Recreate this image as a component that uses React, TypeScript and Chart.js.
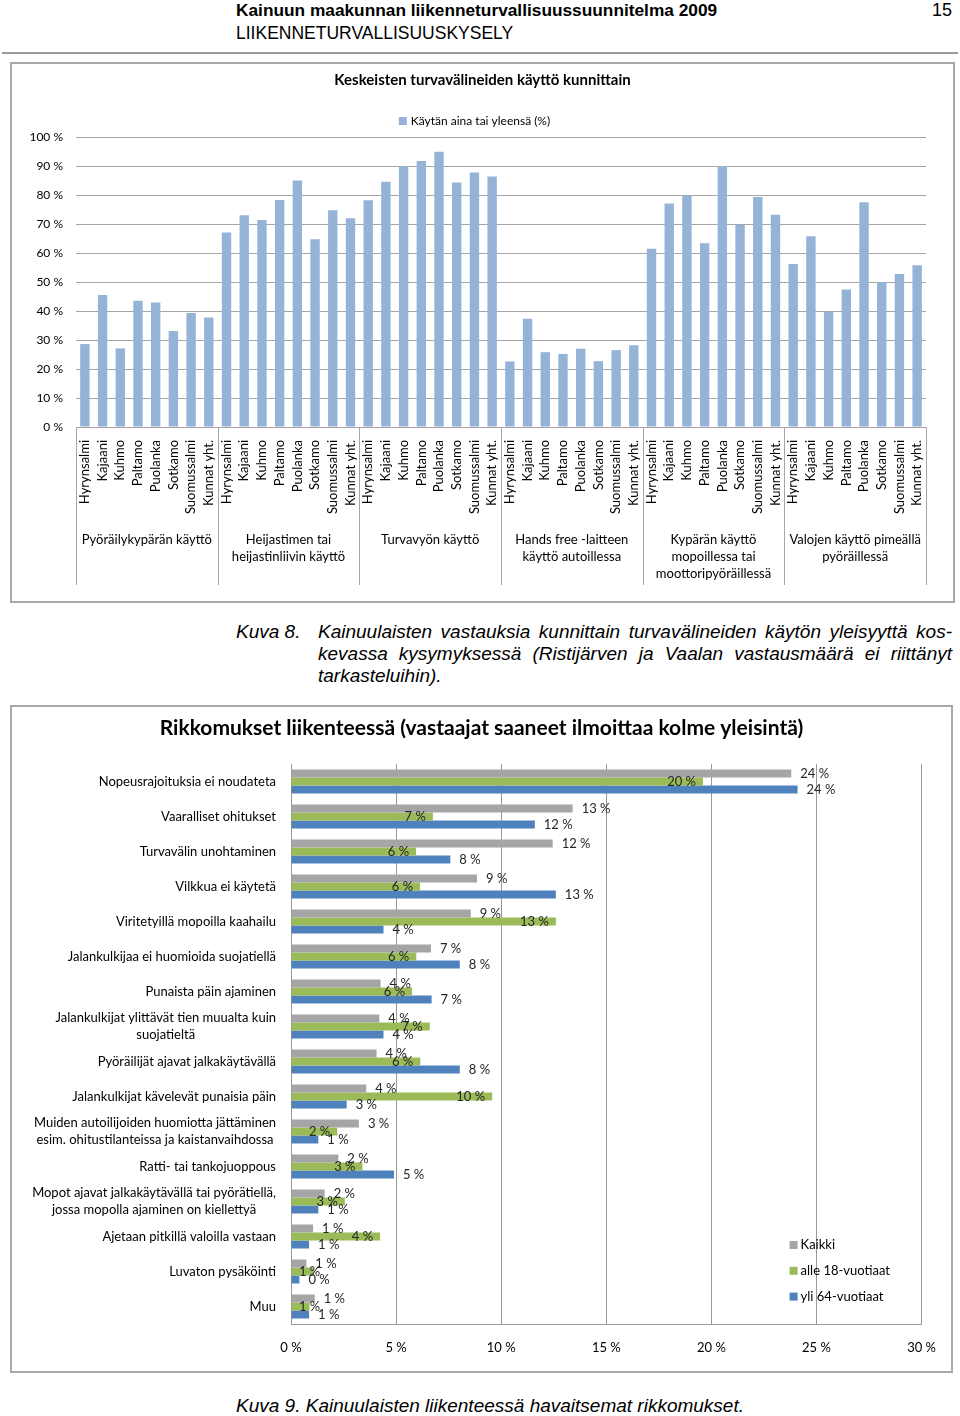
import React, { useEffect, useRef } from "react";
import { Chart, registerables } from "chart.js";
Chart.register(...registerables);

const FONT = "Lato, 'Open Sans', sans-serif";
const NARROW = "'Liberation Sans Narrow', 'Arial Narrow', 'Liberation Sans', Arial, sans-serif";

// ---------- Chart 1: Keskeisten turvavälineiden käyttö kunnittain ----------
const usageTitle = "Keskeisten turvavälineiden käyttö kunnittain";
const usageLegend = "Käytän aina tai yleensä (%)";
const municipalities = ["Hyrynsalmi", "Kajaani", "Kuhmo", "Paltamo", "Puolanka", "Sotkamo", "Suomussalmi", "Kunnat yht."];
const equipmentGroups: string[][] = [
  ["Pyöräilykypärän käyttö"],
  ["Heijastimen tai", "heijastinliivin käyttö"],
  ["Turvavyön käyttö"],
  ["Hands free -laitteen", "käyttö autoillessa"],
  ["Kypärän käyttö", "mopoillessa tai", "moottoripyöräillessä"],
  ["Valojen käyttö pimeällä", "pyöräillessä"],
];
const bikeHelmetUse = [28.6, 45.5, 27.1, 43.5, 42.9, 33.1, 39.3, 37.8];
const reflectorUse = [67.1, 73.0, 71.4, 78.3, 85.0, 64.7, 74.7, 72.0];
const seatbeltUse = [78.2, 84.6, 89.9, 91.7, 94.9, 84.3, 87.8, 86.4];
const handsFreeUse = [22.6, 37.3, 25.8, 25.2, 27.0, 22.7, 26.5, 28.2];
const mopedHelmetUse = [61.5, 77.1, 79.8, 63.4, 89.9, 69.7, 79.3, 73.2];
const bikeLightUse = [56.2, 65.8, 39.7, 47.4, 77.5, 50.0, 52.8, 55.8];
const usageTicks = [0, 10, 20, 30, 40, 50, 60, 70, 80, 90, 100];

// ---------- Chart 2: Rikkomukset liikenteessä ----------
const violationTitle = "Rikkomukset liikenteessä (vastaajat saaneet ilmoittaa kolme yleisintä)";
const violations: string[][] = [
  ["Nopeusrajoituksia ei noudateta"],
  ["Vaaralliset ohitukset"],
  ["Turvavälin unohtaminen"],
  ["Vilkkua ei käytetä"],
  ["Viritetyillä mopoilla kaahailu"],
  ["Jalankulkijaa ei huomioida suojatiellä"],
  ["Punaista päin ajaminen"],
  ["Jalankulkijat ylittävät tien muualta kuin", "suojatieltä"],
  ["Pyöräilijät ajavat jalkakäytävällä"],
  ["Jalankulkijat kävelevät punaisia päin"],
  ["Muiden autoilijoiden huomiotta jättäminen", "esim. ohitustilanteissa ja kaistanvaihdossa"],
  ["Ratti- tai tankojuoppous"],
  ["Mopot ajavat jalkakäytävällä tai pyörätiellä,", "jossa mopolla ajaminen on kiellettyä"],
  ["Ajetaan pitkillä valoilla vastaan"],
  ["Luvaton pysäköinti"],
  ["Muu"],
];
const seriesNames = ["Kaikki", "alle 18-vuotiaat", "yli 64-vuotiaat"];
const allRespondents = [23.8, 13.4, 12.45, 8.85, 8.55, 6.66, 4.26, 4.2, 4.07, 3.58, 3.23, 2.25, 1.6, 1.05, 0.73, 1.13];
const under18 = [19.6, 6.75, 5.95, 6.14, 12.6, 5.96, 5.76, 6.6, 6.15, 9.57, 2.2, 3.4, 2.56, 4.24, 1.08, 0.88];
const over64 = [24.1, 11.6, 7.58, 12.6, 4.4, 8.03, 6.69, 4.4, 8.03, 2.65, 1.3, 4.9, 1.3, 0.86, 0.4, 0.86];
const seriesColors = ["#A5A5A5", "#9BBB59", "#4F81BD"];
const violationTicks = [0, 5, 10, 15, 20, 25, 30];

const pct = (v: number | string) => `${v} %`;

export default function App() {
  const ref1 = useRef<HTMLCanvasElement>(null);
  const ref2 = useRef<HTMLCanvasElement>(null);

  useEffect(() => {
    const usageSeries = [bikeHelmetUse, reflectorUse, seatbeltUse, handsFreeUse, mopedHelmetUse, bikeLightUse];
    const labels1: string[] = [];
    const values1: number[] = [];
    usageSeries.forEach((s) => {
      municipalities.forEach((m, i) => {
        labels1.push(m);
        values1.push(s[i]);
      });
    });

    const plugin1 = {
      id: "usageDecor",
      afterDraw(chart: any) {
        const { ctx, chartArea, width } = chart;
        const x = chart.scales.x;
        const n = municipalities.length;
        const cw = x.getPixelForValue(1) - x.getPixelForValue(0);
        ctx.save();
        ctx.strokeStyle = "#a6a6a6";
        ctx.lineWidth = 1;
        for (let g = 0; g <= equipmentGroups.length; g++) {
          const px = Math.round(x.getPixelForValue(g * n) - cw / 2) + 0.5;
          ctx.beginPath();
          ctx.moveTo(px, chartArea.bottom);
          ctx.lineTo(px, chartArea.bottom + 158);
          ctx.stroke();
        }
        ctx.fillStyle = "#000";
        ctx.font = `13px ${FONT}`;
        ctx.textAlign = "center";
        ctx.textBaseline = "middle";
        equipmentGroups.forEach((lines, g) => {
          const cx = x.getPixelForValue(g * n) - cw / 2 + (cw * n) / 2;
          lines.forEach((l, i) => ctx.fillText(l, cx, chartArea.bottom + 113 + i * 17));
        });
        // title
        ctx.font = `bold 15px ${FONT}`;
        ctx.fillText(usageTitle, width / 2, 17);
        // legend
        ctx.font = `12px ${FONT}`;
        const tw = ctx.measureText(usageLegend).width;
        const total = 8 + 4 + tw;
        const sx = width / 2 - 8 - total / 2;
        ctx.fillStyle = "#95B3D7";
        ctx.fillRect(sx, 54, 8, 8);
        ctx.fillStyle = "#000";
        ctx.textAlign = "left";
        ctx.fillText(usageLegend, sx + 12, 58);
        ctx.restore();
      },
    };

    const c1 = new Chart(ref1.current!, {
      type: "bar",
      data: {
        labels: labels1,
        datasets: [
          {
            label: usageLegend,
            data: values1,
            backgroundColor: "#95B3D7",
            barPercentage: 0.53,
            categoryPercentage: 1,
          },
        ],
      },
      options: {
        animation: false,
        responsive: false,
        maintainAspectRatio: false,
        layout: { padding: { top: 74, right: 28, left: 0, bottom: 0 } },
        plugins: { legend: { display: false }, title: { display: false }, tooltip: { enabled: false } },
        scales: {
          x: {
            grid: { display: false, drawTicks: false },
            border: { display: false },
            ticks: {
              autoSkip: false,
              maxRotation: 90,
              minRotation: 90,
              padding: 13,
              color: "#000",
              font: { family: FONT, size: 13 },
            },
            afterFit: (s: any) => {
              s.height = 175;
            },
          },
          y: {
            min: usageTicks[0],
            max: usageTicks[usageTicks.length - 1],
            ticks: {
              stepSize: usageTicks[1] - usageTicks[0],
              callback: (v: any) => pct(v),
              padding: 13,
              color: "#000",
              font: { family: FONT, size: 12 },
            },
            grid: { color: "#a6a6a6", drawTicks: false },
            border: { display: false },
            afterFit: (s: any) => {
              s.width = 65;
            },
          },
        },
      },
      plugins: [plugin1],
    } as any);

    const plugin2 = {
      id: "violationDecor",
      afterDraw(chart: any) {
        const { ctx, chartArea, width } = chart;
        const y = chart.scales.y;
        ctx.save();
        // title
        ctx.fillStyle = "#000";
        ctx.font = `bold 21px ${FONT}`;
        ctx.textAlign = "center";
        ctx.textBaseline = "middle";
        ctx.fillText(violationTitle, width / 2, 22);
        // category labels
        ctx.font = `13px ${FONT}`;
        const rightEdge = chartArea.left - 15;
        violations.forEach((lines, i) => {
          const cy = y.getPixelForValue(i);
          const maxW = Math.max(...lines.map((l) => ctx.measureText(l).width));
          const cx = rightEdge - maxW / 2;
          lines.forEach((l, k) => {
            const ly = cy + (k - (lines.length - 1) / 2) * 17;
            ctx.fillText(l, cx, ly);
          });
        });
        // data labels
        ctx.font = `13px ${FONT}`;
        ctx.fillStyle = "#262626";
        ctx.textAlign = "left";
        chart.data.datasets.forEach((ds: any, d: number) => {
          const meta = chart.getDatasetMeta(d);
          meta.data.forEach((el: any, i: number) => {
            const text = pct(Math.round(ds.data[i]));
            const w = ctx.measureText(text).width;
            let lx;
            if (d === 1) {
              lx = Math.max(el.x - 7 - w, chartArea.left + 8);
            } else {
              lx = el.x + 9;
            }
            ctx.fillText(text, lx, el.y);
          });
        });
        // legend
        ctx.font = `13px ${FONT}`;
        seriesNames.forEach((name, k) => {
          const ly = chartArea.bottom - 79 + k * 25.8;
          const lx = chartArea.right - 132;
          ctx.fillStyle = seriesColors[k];
          ctx.fillRect(lx, ly - 4, 8, 8);
          ctx.fillStyle = "#000";
          ctx.fillText(name, lx + 11, ly);
        });
        ctx.restore();
      },
    };

    const c2 = new Chart(ref2.current!, {
      type: "bar",
      data: {
        labels: violations,
        datasets: [
          { label: seriesNames[0], data: allRespondents, backgroundColor: seriesColors[0] },
          { label: seriesNames[1], data: under18, backgroundColor: seriesColors[1] },
          { label: seriesNames[2], data: over64, backgroundColor: seriesColors[2] },
        ].map((d) => ({ ...d, barPercentage: 1, categoryPercentage: 0.69 })),
      },
      options: {
        indexAxis: "y",
        animation: false,
        responsive: false,
        maintainAspectRatio: false,
        layout: { padding: { top: 58, right: 28, left: 280, bottom: 0 } },
        plugins: { legend: { display: false }, title: { display: false }, tooltip: { enabled: false } },
        scales: {
          x: {
            min: violationTicks[0],
            max: violationTicks[violationTicks.length - 1],
            ticks: {
              stepSize: violationTicks[1] - violationTicks[0],
              callback: (v: any) => pct(v),
              padding: 16,
              color: "#000",
              font: { family: FONT, size: 13 },
            },
            grid: { color: "#999999", drawTicks: false },
            border: { display: true, color: "#999999" },
            afterFit: (s: any) => {
              s.height = 47;
            },
          },
          y: {
            ticks: { display: false },
            grid: { display: false, drawTicks: false },
            border: { display: true, color: "#999999" },
            afterFit: (s: any) => {
              s.width = 0;
            },
          },
        },
      },
      plugins: [plugin2],
    } as any);

    return () => {
      c1.destroy();
      c2.destroy();
    };
  }, []);

  const boxStyle: React.CSSProperties = {
    position: "absolute",
    boxSizing: "border-box",
    border: "2px solid #a8a8a8",
    background: "#fff",
  };
  const capStyle: React.CSSProperties = {
    fontFamily: NARROW,
    fontStyle: "italic",
    fontSize: 19,
    lineHeight: "22px",
    color: "#000",
  };

  return (
    <div style={{ position: "absolute", left: 0, top: 0, width: 960, height: 1416, background: "#fff", overflow: "hidden" }}>
      <div style={{ position: "absolute", left: 236, top: 0, fontFamily: NARROW, fontWeight: "bold", fontSize: 17.3, lineHeight: "20px" }}>
        Kainuun maakunnan liikenneturvallisuussuunnitelma 2009
      </div>
      <div style={{ position: "absolute", left: 236, top: 23, fontFamily: NARROW, fontSize: 17.5, lineHeight: "20px" }}>
        LIIKENNETURVALLISUUSKYSELY
      </div>
      <div style={{ position: "absolute", right: 8, top: 0, fontFamily: NARROW, fontSize: 18, lineHeight: "20px" }}>15</div>
      <div style={{ position: "absolute", left: 2, top: 52, width: 956, height: 2, background: "#9a9a9a" }} />

      <div style={{ ...boxStyle, left: 10, top: 62, width: 945, height: 541 }} />
      <canvas ref={ref1} width={943} height={539} style={{ position: "absolute", left: 11, top: 63, width: 943, height: 539 }} />

      <div style={{ ...capStyle, position: "absolute", left: 236, top: 621 }}>Kuva 8.</div>
      <div style={{ ...capStyle, position: "absolute", left: 318, top: 621, width: 634 }}>
        <div style={{ textAlign: "justify", textAlignLast: "justify" }}>
          Kainuulaisten vastauksia kunnittain turvavälineiden käytön yleisyyttä kos-
        </div>
        <div style={{ textAlign: "justify", textAlignLast: "justify" }}>
          kevassa kysymyksessä (Ristijärven ja Vaalan vastausmäärä ei riittänyt
        </div>
        <div>tarkasteluihin).</div>
      </div>

      <div style={{ ...boxStyle, left: 10, top: 705, width: 943, height: 668 }} />
      <canvas ref={ref2} width={941} height={665} style={{ position: "absolute", left: 11, top: 706, width: 941, height: 665 }} />

      <div style={{ ...capStyle, position: "absolute", left: 236, top: 1395 }}>
        Kuva 9. Kainuulaisten liikenteessä havaitsemat rikkomukset.
      </div>
    </div>
  );
}
